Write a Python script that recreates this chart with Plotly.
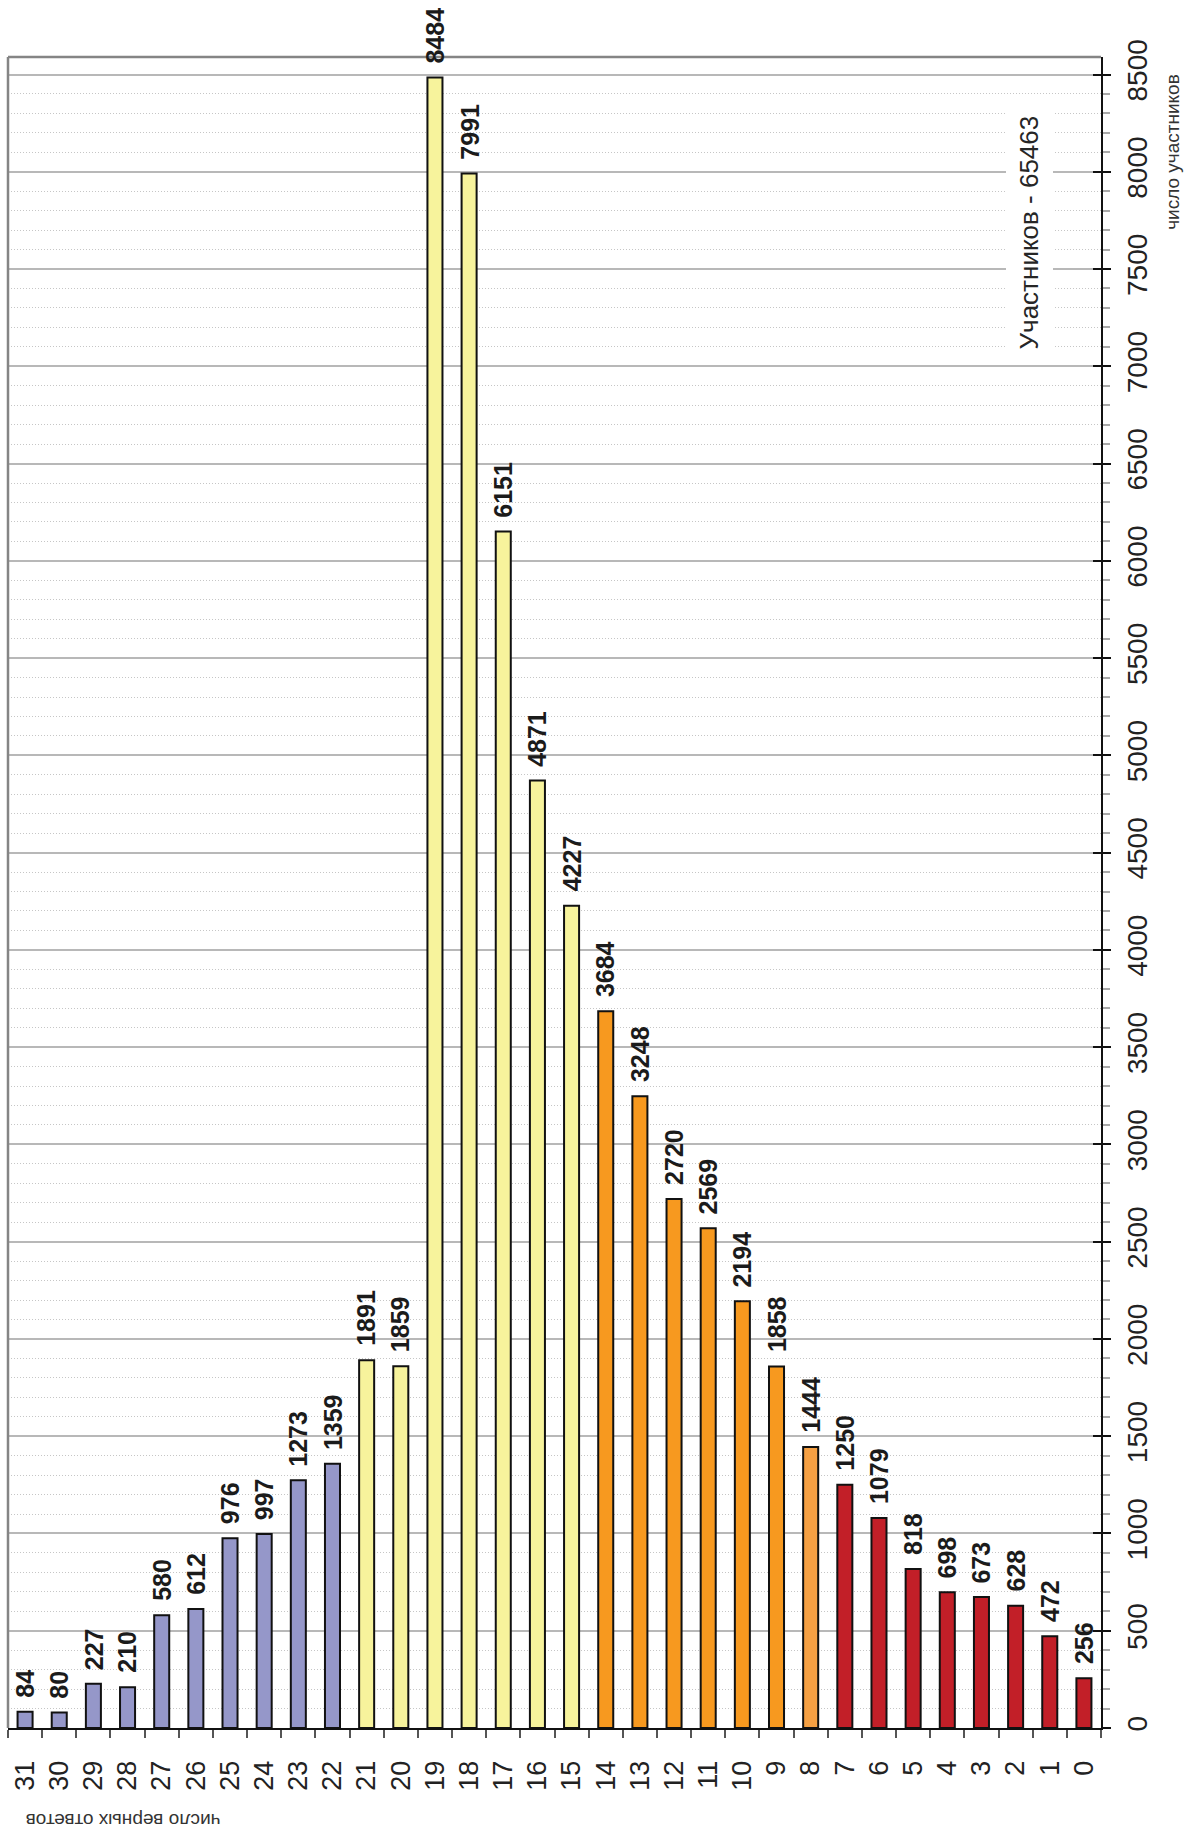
import plotly.graph_objects as go

# Number of correct answers (left to right) and number of participants
answers = [str(n) for n in range(31, -1, -1)]
participants = [84, 80, 227, 210, 580, 612, 976, 997, 1273, 1359,
                1891, 1859, 8484, 7991, 6151, 4871, 4227,
                3684, 3248, 2720, 2569, 2194, 1858,
                1444,
                1250, 1079, 818, 698, 673, 628, 472, 256]
total_label = "Участников - 65463"
value_ticks = list(range(0, 8501, 500))

PURPLE = "#9597C9"
YELLOW = "#F7F39C"
ORANGE = "#F7991F"
LIGHT_ORANGE = "#F5A043"
RED = "#C21F28"


def bar_color(n):
    n = int(n)
    if n >= 22:
        return PURPLE
    if n >= 15:
        return YELLOW
    if n >= 9:
        return ORANGE
    if n == 8:
        return LIGHT_ORANGE
    return RED


FONT = "Liberation Sans, Arial, sans-serif"

fig = go.Figure()
fig.add_trace(go.Bar(
    x=answers,
    y=participants,
    width=0.44,
    marker=dict(color=[bar_color(a) for a in answers],
                line=dict(color="#111111", width=2)),
    hoverinfo="x+y",
    showlegend=False,
))

# value labels above each bar, rotated to read bottom-to-top
for i, v in enumerate(participants):
    fig.add_annotation(
        x=i, y=v, text=f"<b>{v}</b>", textangle=-90,
        showarrow=False, xanchor="center", yanchor="bottom", yshift=12,
        font=dict(family=FONT, size=25, color="#1b1b1b"),
    )

# overall count note
fig.add_annotation(
    xref="paper", yref="paper", x=0.935, y=0.895,
    xanchor="center", yanchor="middle",
    text=total_label, textangle=-90, showarrow=False,
    bgcolor="white", borderpad=8,
    font=dict(family=FONT, size=26, color="#262626"),
)

# axis titles
fig.add_annotation(
    xref="paper", yref="paper", x=1.0655, y=0.943,
    xanchor="center", yanchor="middle",
    text="число участников", textangle=-90, showarrow=False,
    font=dict(family=FONT, size=19, color="#333333"),
)
fig.add_annotation(
    xref="paper", yref="paper", x=0.105, y=-0.055,
    xanchor="center", yanchor="middle",
    text="число верных ответов", textangle=180, showarrow=False,
    font=dict(family=FONT, size=19, color="#333333"),
)

# grey frame on the top and left edges of the plot area
fig.add_shape(type="line", xref="paper", yref="paper", x0=0, x1=1, y0=1, y1=1,
              line=dict(color="#858585", width=2.5))
fig.add_shape(type="line", xref="paper", yref="paper", x0=0, x1=0, y0=0, y1=1,
              line=dict(color="#858585", width=2.5))

YMAX = 8590

fig.update_layout(
    width=1184, height=1832,
    margin=dict(l=8, r=83, t=57, b=104, autoexpand=False),
    paper_bgcolor="white", plot_bgcolor="white",
    bargap=0.56,
    xaxis=dict(
        type="category", categoryorder="array", categoryarray=answers,
        range=[-0.5, len(answers) - 0.5],
        tickson="boundaries", ticks="outside", ticklen=8, tickcolor="#555555",
        tickwidth=1.5,
        tickangle=-90, ticklabelstandoff=20,
        tickfont=dict(family=FONT, size=27, color="#222222"),
        showline=True, linecolor="#111111", linewidth=2,
        showgrid=False, zeroline=False,
    ),
    yaxis=dict(
        side="right", range=[0, YMAX],
        tickvals=value_ticks, ticks="outside", ticklen=8, tickcolor="#111111",
        tickwidth=1.5,
        tickangle=-90, ticklabelstandoff=2,
        tickfont=dict(family=FONT, size=28, color="#222222"),
        showline=True, linecolor="#111111", linewidth=2,
        showgrid=True, gridcolor="#b8b8b8", gridwidth=1.5,
        zeroline=False,
        minor=dict(dtick=100, showgrid=True, gridcolor="#c6c6c6",
                   griddash="1px,2px", gridwidth=1,
                   ticks="outside", ticklen=7, tickcolor="#aaaaaa"),
    ),
    yaxis2=dict(
        overlaying="y", side="right", range=[0, YMAX],
        tickvals=value_ticks, ticks="inside", ticklen=8, tickcolor="#111111",
        tickwidth=1.5, showticklabels=False, showgrid=False, zeroline=False,
        showline=False,
    ),
)

# invisible trace to bring up the secondary axis used for inner tick marks
fig.add_trace(go.Scatter(x=[answers[0]], y=[0], yaxis="y2", mode="markers",
                         marker=dict(opacity=0), hoverinfo="skip",
                         showlegend=False))

fig.write_html("out.html")
